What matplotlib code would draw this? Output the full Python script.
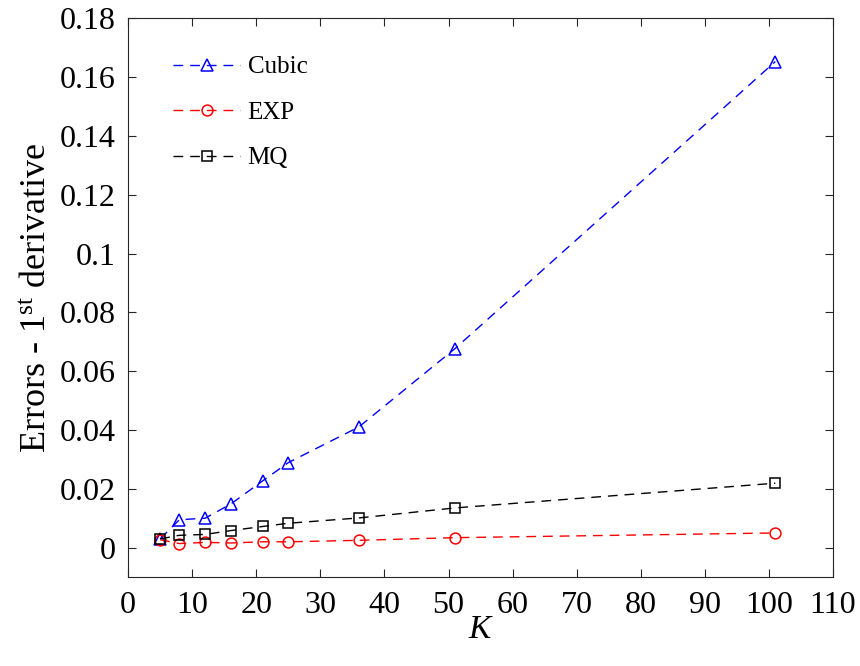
import matplotlib
matplotlib.use('Agg')
import matplotlib.pyplot as plt

plt.rcParams['font.family'] = ['Liberation Serif', 'DejaVu Serif']
plt.rcParams['mathtext.fontset'] = 'custom'
plt.rcParams['mathtext.rm'] = 'Liberation Serif'
plt.rcParams['mathtext.it'] = 'Liberation Serif:italic'

# 데이터
K = [5, 8, 12, 16, 21, 25, 36, 51, 101]
cubic = [0.0031, 0.0096, 0.0101, 0.0149, 0.0228, 0.0290, 0.0411, 0.0677, 0.1652]
exp_ = [0.0028, 0.0015, 0.0019, 0.0017, 0.0021, 0.0021, 0.0026, 0.0035, 0.0051]
mq = [0.0031, 0.0043, 0.0046, 0.0059, 0.0073, 0.0084, 0.0102, 0.0136, 0.0220]
labels = ['Cubic', 'EXP', 'MQ']
xticks = list(range(0, 111, 10))
yticks = [0, 0.02, 0.04, 0.06, 0.08, 0.1, 0.12, 0.14, 0.16, 0.18]
ytick_labels = ['0', '0.02', '0.04', '0.06', '0.08', '0.1', '0.12', '0.14', '0.16', '0.18']

fig = plt.figure(figsize=(8.6, 6.66), dpi=100)
ax = fig.add_axes([0.149, 0.133, 0.8196, 0.840])

dash = (7, 5)
ax.plot(K, cubic, '--', dashes=dash, color='blue', marker='^', mfc='none', ms=8.8, mew=1.1, lw=1,
        label=labels[0])
ax.plot(K, exp_, '--', dashes=dash, color='red', marker='o', mfc='none', ms=7.8, mew=1.1, lw=1,
        label=labels[1])
ax.plot(K, mq, '--', dashes=dash, color='black', marker='s', mfc='none', ms=6.5, mew=1.1, lw=1,
        label=labels[2])

ax.set_xlim(0, 110)
ax.set_ylim(-0.01, 0.18)
ax.set_xticks(xticks)
ax.set_xticklabels([str(t) for t in xticks])
ax.set_yticks(yticks)
ax.set_yticklabels(ytick_labels)

# MATLAB 스타일 눈금
ax.tick_params(direction='in', length=6, width=0.8, labelsize=23, colors='#262626',
               top=True, right=True)
ax.tick_params(axis='x', pad=10)
ax.tick_params(axis='y', pad=9)
for t in ax.get_xticklabels() + ax.get_yticklabels():
    t.set_color('black')
for s in ax.spines.values():
    s.set_color('#262626')
    s.set_linewidth(0.8)

ax.set_xlabel('$K$', fontsize=24, labelpad=-4)
ax.set_ylabel('Errors - 1$^{\\rm st}$ derivative', fontsize=26, labelpad=4)

ax.legend(loc='upper left', bbox_to_anchor=(0.032, 0.9725), frameon=False, fontsize=18,
          handlelength=2.68, labelspacing=0.92, handletextpad=0.3)

fig.savefig('out.png', dpi=100)
